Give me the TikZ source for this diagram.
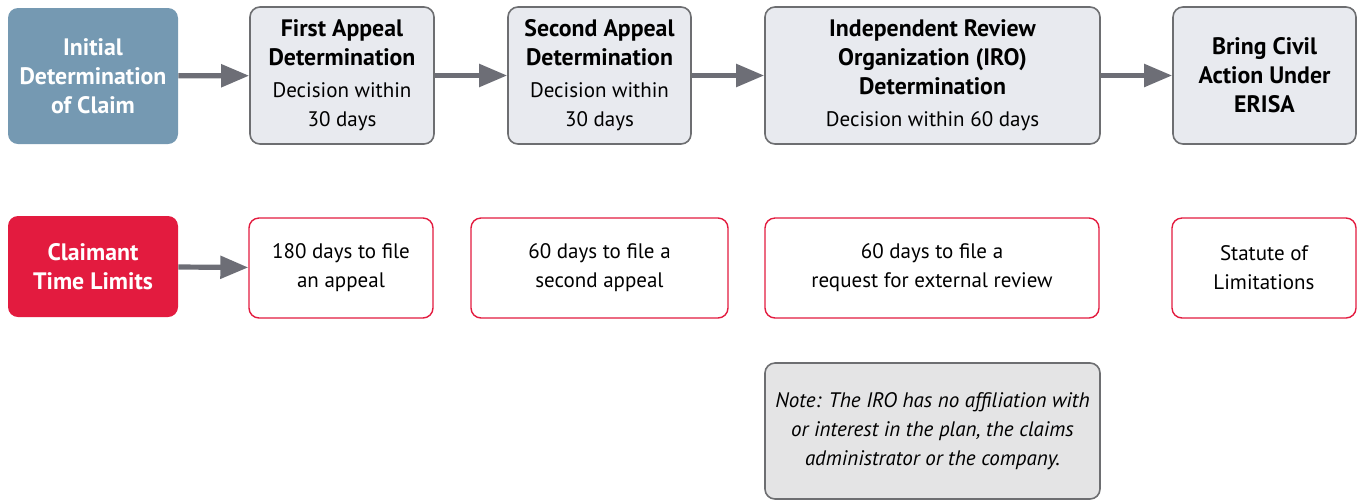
\documentclass[tikz,border=0pt]{standalone}
\usepackage{fontspec}
\setmainfont{PT Sans}
\usetikzlibrary{arrows.meta}

\definecolor{initblue}{HTML}{7599B2}
\definecolor{limitred}{HTML}{E31B3F}
\definecolor{stepfill}{HTML}{E8EAEF}
\definecolor{stepline}{HTML}{6D6E71}
\definecolor{notefill}{HTML}{E4E4E5}
\definecolor{arrowgray}{HTML}{6D6E76}
\newcommand{\hd}[1]{{\fontsize{11.9}{14.5}\selectfont\bfseries #1}}

\begin{document}
\begin{tikzpicture}[x=0.5pt,y=-0.5pt,
    txt/.style={align=center,font=\fontsize{10.5}{14.5}\selectfont,inner sep=2pt},
    headbox/.style={txt,rounded corners=5pt,minimum width=85pt,text=white,font=\fontsize{11.9}{14.5}\selectfont\bfseries},
    stagebox/.style={txt,draw=stepline,fill=stepfill,line width=0.8pt,rounded corners=5pt,minimum height=68.5pt},
    limitbox/.style={txt,draw=limitred,fill=white,line width=0.7pt,rounded corners=5pt,minimum height=50pt},
    flow/.style={arrowgray,line width=2.6pt,-{Triangle[length=14pt,width=11pt]}}]
      \useasboundingbox (0,0) rectangle (1365,500) ;
      % top row: review stages
      \node[headbox,fill=initblue,minimum height=68pt] (init) at (93,76)
        {Initial\\Determination\\of Claim} ;
      \node[stagebox,minimum width=92pt] (first) at (342,75.5)
        {\hd{First Appeal}\\\hd{Determination}\\[1.5pt]Decision within\\30 days} ;
      \node[stagebox,minimum width=91.5pt] (second) at (599.5,75.5)
        {\hd{Second Appeal}\\\hd{Determination}\\[1.5pt]Decision within\\30 days} ;
      \node[stagebox,minimum width=167.5pt] (iro) at (932.5,75.5)
        {\hd{Independent Review}\\\hd{Organization (IRO)}\\\hd{Determination}\\[1.5pt]Decision within 60 days} ;
      \node[stagebox,minimum width=91.5pt] (civil) at (1264.5,75.5)
        {\hd{Bring Civil}\\\hd{Action Under}\\\hd{ERISA}} ;
      % bottom row: time limits
      \node[headbox,fill=limitred,minimum height=50.5pt] (claimant) at (93,266.5)
        {Claimant\\Time Limits} ;
      \node[limitbox,minimum width=92pt] (file1) at (341,268)
        {180 days to file\\an appeal} ;
      \node[limitbox,minimum width=128.5pt] (file2) at (599.5,268)
        {60 days to file a\\second appeal} ;
      \node[limitbox,minimum width=167pt] (file3) at (932,268)
        {60 days to file a\\request for external review} ;
      \node[limitbox,minimum width=92pt] (statute) at (1264,268)
        {Statute of\\Limitations} ;
      % note
      \node[txt,draw=stepline,fill=notefill,line width=0.8pt,rounded corners=5pt,
        minimum width=167.5pt,minimum height=68pt,font=\fontsize{10.5}{14.5}\selectfont\itshape] (note) at (932.5,431)
        {Note: The IRO has no affiliation with\\or interest in the plan, the claims\\administrator or the company.} ;
      \draw[flow] (init) -- (first) ;
      \draw[flow] (first) -- (second) ;
      \draw[flow] (second) -- (iro) ;
      \draw[flow] (iro) -- (civil) ;
      \draw[flow] (claimant) -- (file1) ;
\end{tikzpicture}
\end{document}
